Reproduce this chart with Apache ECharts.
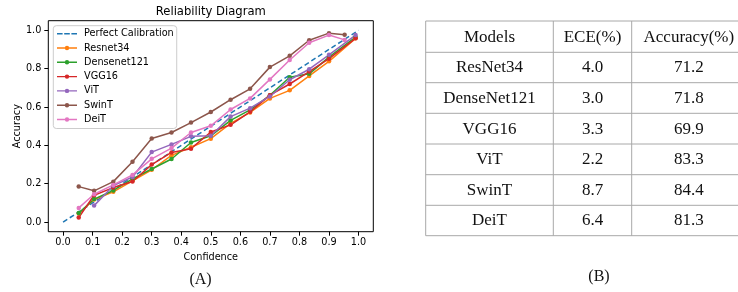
<!DOCTYPE html>
<html>
<head>
<meta charset="utf-8">
<script src="https://cdn.jsdelivr.net/npm/echarts@6/dist/echarts.min.js"></script>
<style>
html, body { margin: 0; padding: 0; background: #fff; }
#main { width: 738px; height: 292px; }
</style>
</head>
<body>
<div id="main"></div>
<script>
// ---- data ----
var xTicks = [0.0, 0.1, 0.2, 0.3, 0.4, 0.5, 0.6, 0.7, 0.8, 0.9, 1.0];
var yTicks = [0.0, 0.2, 0.4, 0.6, 0.8, 1.0];

// mean confidence per bin (CNNs + ViT end near 0.99, SwinT / DeiT near 0.95)
var confA = [0.053, 0.105, 0.17, 0.235, 0.3, 0.367, 0.433, 0.5, 0.567, 0.633, 0.7, 0.767, 0.833, 0.9, 0.99];
var confB = [0.053, 0.105, 0.17, 0.235, 0.3, 0.367, 0.433, 0.5, 0.567, 0.633, 0.7, 0.767, 0.833, 0.9, 0.953];

var perfectX = [0, 1];
var perfectY = [0, 1];
var resnet34    = [0.045, 0.118, 0.158, 0.215, 0.273, 0.348, 0.390, 0.435, 0.515, 0.572, 0.645, 0.687, 0.762, 0.838, 0.958];
var densenet121 = [0.047, 0.120, 0.165, 0.225, 0.277, 0.329, 0.415, 0.450, 0.530, 0.585, 0.661, 0.755, 0.773, 0.860, 0.965];
var vgg16       = [0.024, 0.140, 0.180, 0.212, 0.300, 0.363, 0.383, 0.470, 0.507, 0.575, 0.662, 0.720, 0.785, 0.852, 0.958];
var vit         = [null,  0.086, 0.190, 0.235, 0.365, 0.405, 0.447, 0.450, 0.550, 0.594, 0.655, 0.742, 0.797, 0.872, 0.975];
var swint       = [0.185, 0.163, 0.211, 0.315, 0.436, 0.467, 0.519, 0.574, 0.638, 0.695, 0.808, 0.867, 0.948, 0.985, 0.977];
var deit        = [0.074, 0.145, 0.194, 0.246, 0.330, 0.386, 0.467, 0.502, 0.587, 0.645, 0.744, 0.845, 0.935, 0.975, 0.950];

// table (B)
var tableHeader = ['Models', 'ECE(%)', 'Accuracy(%)'];
var tableModels = ['ResNet34', 'DenseNet121', 'VGG16', 'ViT', 'SwinT', 'DeiT'];
var tableECE    = ['4.0', '3.0', '3.3', '2.2', '8.7', '6.4'];
var tableAcc    = ['71.2', '71.8', '69.9', '83.3', '84.4', '81.3'];

// ---- helpers ----
function pairs(xs, ys) {
    var out = [];
    for (var i = 0; i < ys.length; i++) {
        if (ys[i] !== null) out.push([xs[i], ys[i]]);
    }
    return out;
}

var tickFont = { fontFamily: 'DejaVu Sans', fontSize: 9.7, color: '#000' };

// legend glyphs like matplotlib: thin line + small dot, and a dashed line
var iconLineDot = 'path://M0,1.3 L20,1.3 L20,2.7 L0,2.7 Z M12.2,2 A2.2,2.2 0 1 1 7.8,2 A2.2,2.2 0 1 1 12.2,2 Z';
var iconDash = 'path://M0,0 L5.6,0 L5.6,1.5 L0,1.5 Z M7.2,0 L12.8,0 L12.8,1.5 L7.2,1.5 Z M14.4,0 L20,0 L20,1.5 L14.4,1.5 Z';

function modelSeries(name, xs, ys, color) {
    return {
        name: name,
        type: 'line',
        data: pairs(xs, ys),
        symbol: 'circle',
        symbolSize: 4.5,
        color: color,
        lineStyle: { width: 1.5, color: color },
        itemStyle: { color: color },
        animation: false
    };
}

// table drawing with graphic elements
var tblLeft = 425.7, tblRight = 746;
var colX = [425.7, 553.3, 631.7, 746];
var rowY = [21, 52.3, 82.7, 113.3, 144, 174.7, 205.3, 235.7];
var lineColor = '#a8a8a8';
var tableGraphics = [];
rowY.forEach(function (y) {
    tableGraphics.push({
        type: 'line', silent: true,
        shape: { x1: tblLeft, y1: y, x2: tblRight, y2: y },
        style: { stroke: lineColor, lineWidth: 1 }
    });
});
colX.forEach(function (x) {
    tableGraphics.push({
        type: 'line', silent: true,
        shape: { x1: x, y1: rowY[0], x2: x, y2: rowY[rowY.length - 1] },
        style: { stroke: lineColor, lineWidth: 1 }
    });
});
function cell(txt, col, row) {
    tableGraphics.push({
        type: 'text', silent: true,
        x: (colX[col] + colX[col + 1]) / 2,
        y: (rowY[row] + rowY[row + 1]) / 2 + 0.5,
        style: {
            text: txt, fill: '#111',
            font: '17px "Liberation Serif"',
            align: 'center', verticalAlign: 'middle'
        }
    });
}
tableHeader.forEach(function (h, c) { cell(h, c, 0); });
tableModels.forEach(function (m, r) {
    cell(m, 0, r + 1);
    cell(tableECE[r], 1, r + 1);
    cell(tableAcc[r], 2, r + 1);
});

var chart = echarts.init(document.getElementById('main'), null, { renderer: 'canvas' });

var legendNames = ['Perfect Calibration', 'Resnet34', 'Densenet121', 'VGG16', 'ViT', 'SwinT', 'DeiT'];

var option = {
    animation: false,
    backgroundColor: '#fff',
    grid: {
        left: 48.3, right: 738 - 373.3, top: 20.7, bottom: 292 - 231.7,
        show: true, borderColor: '#000', borderWidth: 1, backgroundColor: 'transparent'
    },
    legend: {
        orient: 'vertical',
        left: 53.3, top: 25.7,
        padding: [3, 3, 4, 3.7],
        itemWidth: 20, itemHeight: 10, itemGap: 4.3,
        symbolKeepAspect: true,
        backgroundColor: 'rgba(255,255,255,0.8)',
        borderColor: '#cccccc', borderWidth: 1, borderRadius: 3,
        textStyle: { fontFamily: 'DejaVu Sans', fontSize: 9.7, color: '#000', padding: [0, 0, 0, 2] },
        data: legendNames.map(function (n, i) {
            return { name: n, icon: i === 0 ? iconDash : iconLineDot };
        })
    },
    xAxis: {
        type: 'value', min: -0.05, max: 1.05,
        name: 'Confidence', nameLocation: 'middle', nameGap: 20,
        nameTextStyle: tickFont,
        axisLine: { show: false, onZero: false },
        splitLine: { show: false },
        axisTick: { show: true, customValues: xTicks, length: 4, lineStyle: { color: '#000' } },
        axisLabel: {
            customValues: xTicks, margin: 6,
            fontFamily: 'DejaVu Sans', fontSize: 9.7, color: '#000',
            formatter: function (v) { return v.toFixed(1); }
        }
    },
    yAxis: {
        type: 'value', min: -0.05, max: 1.05,
        name: 'Accuracy', nameLocation: 'middle', nameGap: 22,
        nameTextStyle: tickFont,
        axisLine: { show: false, onZero: false },
        splitLine: { show: false },
        axisTick: { show: true, customValues: yTicks, length: 4, lineStyle: { color: '#000' } },
        axisLabel: {
            customValues: yTicks, margin: 7,
            fontFamily: 'DejaVu Sans', fontSize: 9.7, color: '#000',
            formatter: function (v) { return v.toFixed(1); }
        }
    },
    series: [
        {
            name: 'Perfect Calibration',
            type: 'line',
            data: pairs(perfectX, perfectY),
            symbol: 'none',
            color: '#1f77b4',
            lineStyle: { type: [5, 3], width: 1.5, color: '#1f77b4' },
            animation: false
        },
        modelSeries('Resnet34', confA, resnet34, '#ff7f0e'),
        modelSeries('Densenet121', confA, densenet121, '#2ca02c'),
        modelSeries('VGG16', confA, vgg16, '#d62728'),
        modelSeries('ViT', confA, vit, '#9467bd'),
        modelSeries('SwinT', confB, swint, '#8c564b'),
        modelSeries('DeiT', confB, deit, '#e377c2')
    ],
    graphic: [
        {
            type: 'text', silent: true, x: 210.8, y: 11.5,
            style: {
                text: 'Reliability Diagram', fill: '#000',
                font: '11.6px "DejaVu Sans"', align: 'center', verticalAlign: 'middle'
            }
        },
        {
            type: 'text', silent: true, x: 200.5, y: 280,
            style: {
                text: '(A)', fill: '#111',
                font: '16px "Liberation Serif"', align: 'center', verticalAlign: 'middle'
            }
        },
        {
            type: 'text', silent: true, x: 599, y: 277,
            style: {
                text: '(B)', fill: '#111',
                font: '16px "Liberation Serif"', align: 'center', verticalAlign: 'middle'
            }
        }
    ].concat(tableGraphics)
};

chart.setOption(option);
</script>
</body>
</html>
